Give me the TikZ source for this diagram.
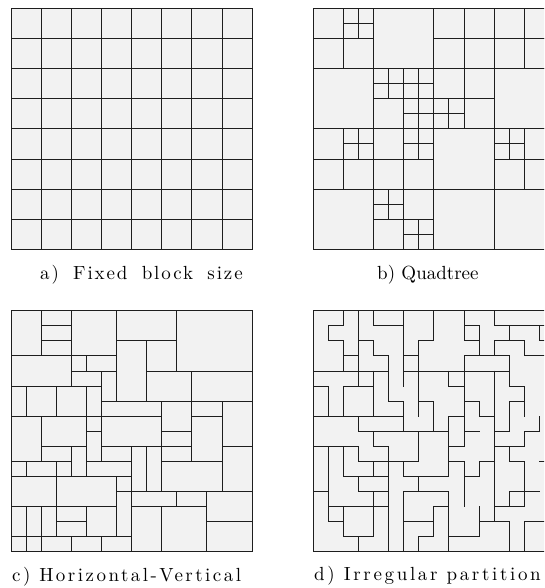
\documentclass[tikz,border=0pt]{standalone}
\usepackage{fontspec}
\newfontfamily\capfont{lmroman10-regular.otf}
\definecolor{cellfill}{HTML}{F2F2F2}
\definecolor{edgecol}{HTML}{1E1E1E}
\tikzset{
  cellbox/.style={fill=cellfill, draw=edgecol, line width=0.9pt},
  cutline/.style={draw=edgecol, line width=0.9pt, line cap=rect},
  caption/.style={anchor=base west, inner sep=0pt, font=\capfont\fontsize{19}{23}\selectfont},
  panelunits/.style={x=15.07pt, y=-15.07pt},
}
\begin{document}
\begin{tikzpicture}[x=1pt,y=-1pt]
\useasboundingbox (0,0) rectangle (544,588);
\clip (0,0) rectangle (544,588);

% ---------- a) fixed block size ----------
\begin{scope}[shift={(11,8.3)}, panelunits]
  \fill[cellfill] (0,0) rectangle (16,16);
  \foreach \k in {2,4,...,14} {
    \draw[cutline] (\k,0) -- (\k,16);
    \draw[cutline] (0,\k) -- (16,\k);
  }
  \draw[cutline] (0,0) rectangle (16,16);
\end{scope}

% ---------- b) quadtree ----------
\begin{scope}[shift={(313.3,8.3)}, panelunits]
  \foreach \a/\b/\c/\d in {
    0/0/2/2, 2/0/3/1, 3/0/4/1, 2/1/3/2, 3/1/4/2, 0/2/2/4, 2/2/4/4,
    4/0/8/4,
    8/0/10/2, 10/0/12/2, 8/2/10/4, 10/2/12/4,
    12/0/14/2, 14/0/16/2, 12/2/14/4, 14/2/16/4,
    0/4/4/8,
    4/4/5/5, 5/4/6/5, 4/5/5/6, 5/5/6/6, 6/4/7/5, 7/4/8/5, 6/5/7/6, 7/5/8/6,
    4/6/6/8, 6/6/7/7, 7/6/8/7, 6/7/7/8, 7/7/8/8,
    8/4/10/6, 10/4/12/6, 8/6/9/7, 9/6/10/7, 8/7/9/8, 9/7/10/8, 10/6/12/8,
    12/4/16/8,
    0/8/2/10, 2/8/3/9, 3/8/4/9, 2/9/3/10, 3/9/4/10, 0/10/2/12, 2/10/4/12,
    4/8/6/10, 6/8/7/9, 7/8/8/9, 6/9/7/10, 7/9/8/10, 4/10/6/12, 6/10/8/12,
    8/8/12/12,
    12/8/13/9, 13/8/14/9, 12/9/13/10, 13/9/14/10, 14/8/16/10, 12/10/14/12, 14/10/16/12,
    0/12/4/16,
    4/12/5/13, 5/12/6/13, 4/13/5/14, 5/13/6/14, 6/12/8/14, 4/14/6/16,
    6/14/7/15, 7/14/8/15, 6/15/7/16, 7/15/8/16,
    8/12/12/16, 12/12/16/16}
  { \draw[cellbox] (\a,\b) rectangle (\c,\d); }
\end{scope}

% ---------- c) horizontal-vertical ----------
\begin{scope}[shift={(11,310.7)}, panelunits]
  \foreach \a/\b/\c/\d in {
    0/0/2/3, 2/0/4/1, 2/1/4/2, 2/2/4/3, 4/0/7/3, 7/0/11/2, 7/2/9/6, 9/2/11/4, 11/0/16/4,
    0/3/4/5, 4/3/5/4, 5/3/7/4, 4/4/6/5, 6/4/7/6, 9/4/12/6, 12/4/16/6,
    0/5/1/7, 1/5/3/7, 3/5/5/7, 5/5/6/7, 6/6/10/7, 10/6/12/8, 12/6/14/7, 14/6/16/9,
    0/7/2/10, 2/7/5/9, 5/7/6/8, 6/7/10/9, 12/7/14/10, 10/8/12/9, 10/9/12/10, 14/9/16/12,
    2/9/4/10, 4/9/5/11, 5/8/6/10, 6/9/8/10, 8/9/9/12, 9/9/10/12,
    0/10/1/11, 1/10/3/11, 3/10/4/11, 5/10/8/11, 10/10/14/12,
    0/11/3/13, 3/11/7/13, 7/11/8/12, 7/12/8/15, 8/12/11/13, 11/12/13/13, 13/12/16/14, 13/14/16/16,
    0/13/1/15, 1/13/2/15, 2/13/3/15, 3/13/5/14, 3/14/5/15, 5/13/7/15,
    0/15/1/16, 1/15/2/16, 2/15/4/16, 4/15/6/16, 6/15/8/16, 8/13/10/16, 10/13/13/16}
  { \draw[cellbox] (\a,\b) rectangle (\c,\d); }
\end{scope}

% ---------- d) irregular partition ----------
\begin{scope}[shift={(313.3,310.7)}, panelunits]
  \fill[cellfill] (0,0) rectangle (16,16);
  \foreach \a/\b/\c/\d in {
    2/0/2/1, 1/1/2/1, 1/1/1/2, 1/2/2/2, 2/2/2/4, 2/3/3/3, 3/0/3/5, 4/0/4/1, 4/1/6/1,
    6/0/6/5, 3/2/4/2, 4/2/4/3, 4/3/5/3, 5/3/5/6, 5/6/6/6, 6/6/6/8, 6/3/7/3, 7/2/8/2,
    7/2/7/7, 0/4/5/4, 6/4/13/4, 0/5/1/5, 1/5/1/7, 2/5/4/5, 2/5/2/7, 4/4/4/7, 0/7/6/7,
    3/7/3/8, 3/8/9/8, 7/6/8/6, 8/6/8/8,
    8/0/8/2, 10/0/10/2, 10/1/11/1, 11/1/11/3, 10/2/11/2, 12/0/12/1, 12/1/16/1, 13/1/13/2,
    12/2/14/2, 14/2/14/3, 14/3/16/3, 15/1/15/2, 15/2/16/2, 12/2/12/3, 10/3/13/3, 13/3/13/5,
    9/4/9/5, 9/5/10/5, 10/3/10/8, 12/4/12/8, 13/5/14/5, 14/5/14/7, 13/6/14/6, 13/6/13/8,
    9/7/10/7, 9/7/9/11, 10/6/11/6, 11/6/11/7, 11/7/12/7, 15/7/15/8,
    4/8/4/9, 7/8/7/10, 0/9/3/9, 4/9/5/9, 1/9/1/14, 2/9/2/11, 3/9/3/10, 3/10/7/10,
    5/9/5/16, 4/10/4/11, 6/10/6/11, 2/11/5/11, 6/11/8/11, 3/11/3/12, 0/12/1/12, 3/12/5/12,
    4/12/4/15, 7/11/7/12, 6/12/9/12, 1/13/5/13, 2/13/2/15, 1/14/2/14, 2/15/4/15, 3/15/3/16,
    6/12/6/16, 6/14/8/14, 7/15/8/15, 7/15/7/16,
    9/9/10/9, 10/8/10/9, 10/8/11/8, 12/8/12/14, 12/8/13/8, 12/9/14/9, 14/8/14/9, 14/8/15/8,
    13/9/13/10, 13/10/14/10, 14/10/14/13, 15/10/16/10, 7/11/9/11, 9/10/10/10, 10/10/10/11,
    10/11/11/11, 11/10/11/11, 11/10/12/10, 9/12/9/16, 8/13/8/15, 8/13/9/13, 10/11/10/13,
    11/13/11/15, 11/14/13/14, 13/14/13/16, 9/15/11/15, 13/12/13/13, 13/12/15/12,
    12/13/14/13, 14/14/14/16, 14/14/16/14}
  { \draw[cutline] (\a,\b) -- (\c,\d); }
  \draw[cutline] (0,0) rectangle (16,16);
\end{scope}

% ---------- captions ----------
\node[caption] (capa) at (40,279)
  {\addfontfeatures{LetterSpace=10}a)\hspace{6pt} Fixed\hspace{6pt} block\hspace{6pt} size};
\node[caption] (capb) at (377,279) {b) Quadtree};
\node[caption] (capc) at (12,581) {\addfontfeatures{LetterSpace=13}c) Horizontal-Vertical};
\node[caption] (capd) at (314,580) {\addfontfeatures{LetterSpace=14}d) Irregular partition};
\end{tikzpicture}
\end{document}
